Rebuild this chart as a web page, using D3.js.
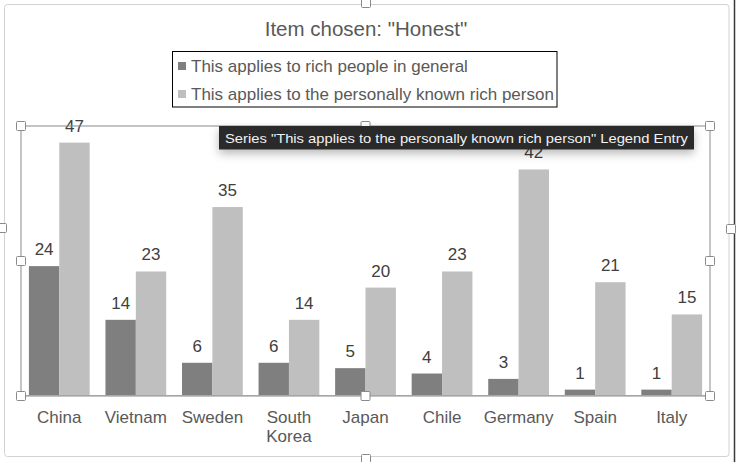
<!DOCTYPE html>
<html>
<head>
<meta charset="utf-8">
<script src="https://cdn.jsdelivr.net/npm/d3@7/dist/d3.min.js"></script>
<style>
  html, body { margin: 0; padding: 0; background: #fff; }
  svg { display: block; }
  text { font-family: "Liberation Sans", Arial, Helvetica, sans-serif; }
</style>
</head>
<body>
<svg id="chart" width="736" height="462"></svg>
<script>
// ---- data ----
const categories = ["China", "Vietnam", "Sweden", "South Korea", "Japan", "Chile", "Germany", "Spain", "Italy"];
const seriesNames = ["This applies to rich people in general", "This applies to the personally known rich person"];
const richGeneral = [24, 14, 6, 6, 5, 4, 3, 1, 1];
const richKnown = [47, 23, 35, 14, 20, 23, 42, 21, 15];
const seriesColors = ["#7f7f7f", "#bfbfbf"];
const titleText = 'Item chosen: "Honest"';
const tooltipText = 'Series "This applies to the personally known rich person" Legend Entry';

const svg = d3.select("#chart");
const defs = svg.append("defs");
const sh = defs.append("filter").attr("id", "shadow").attr("x", "-10%").attr("y", "-60%").attr("width", "120%").attr("height", "260%");
sh.append("feDropShadow").attr("dx", 0).attr("dy", 4).attr("stdDeviation", 5).attr("flood-color", "#000").attr("flood-opacity", 0.28);
defs.append("clipPath").attr("id", "legclip").append("rect").attr("x", 172).attr("y", 51).attr("width", 385).attr("height", 56);

// outer chart border + window edge
svg.append("rect").attr("x", 4.5).attr("y", 4.5).attr("width", 724.5).attr("height", 452).attr("rx", 3)
  .attr("fill", "#fff").attr("stroke", "#d2d2d2").attr("stroke-width", 1);
svg.append("line").attr("x1", 734.5).attr("x2", 734.5).attr("y1", 0).attr("y2", 462).attr("stroke", "#3a3a3a").attr("stroke-width", 1.5);

// scales
const plot = { left: 21, right: 710, top: 126, bottom: 396 };
const x0 = d3.scaleBand().domain(categories).range([plot.left, plot.right]).paddingInner(0).paddingOuter(0);
const x1 = d3.scaleBand().domain([0, 1]).range([0, x0.bandwidth()]).paddingInner(0).paddingOuter(0.26);
const y = d3.scaleLinear().domain([0, 50]).range([395, 126.5]);

const rows = categories.map((c, i) => ({ cat: c, vals: [richGeneral[i], richKnown[i]] }));

// bars
const g = svg.append("g");
const groups = g.selectAll("g.grp").data(rows).join("g").attr("class", "grp")
  .attr("transform", d => `translate(${x0(d.cat)},0)`);
groups.selectAll("rect").data(d => d.vals.map((v, k) => ({ v, k }))).join("rect")
  .attr("x", d => x1(d.k)).attr("width", x1.bandwidth())
  .attr("y", d => y(d.v)).attr("height", d => y(0) - y(d.v))
  .attr("fill", d => seriesColors[d.k]);
groups.selectAll("text.val").data(d => d.vals.map((v, k) => ({ v, k }))).join("text").attr("class", "val")
  .attr("x", d => x1(d.k) + x1.bandwidth() / 2).attr("y", d => y(d.v) - 11)
  .attr("text-anchor", "middle").attr("font-size", 17).attr("fill", "#404040")
  .text(d => d.v);

// x axis
const xAxis = d3.axisBottom(x0).tickSize(0).tickPadding(0);
const ax = svg.append("g").attr("transform", `translate(0,${y(0)})`).call(xAxis);
ax.select(".domain").attr("stroke", "#bfbfbf");
ax.selectAll(".tick text").each(function(d) {
  const t = d3.select(this);
  t.text(null).attr("y", null).attr("dy", null).attr("font-size", 17).attr("fill", "#595959")
   .attr("font-family", '"Liberation Sans", Arial, sans-serif');
  const words = d === "South Korea" ? ["South", "Korea"] : [d];
  words.forEach((w, i) => t.append("tspan").attr("x", 0).attr("y", 28 + i * 19).text(w));
});

// plot-area selection frame
svg.append("rect").attr("x", plot.left).attr("y", plot.top).attr("width", plot.right - plot.left).attr("height", plot.bottom - plot.top)
  .attr("fill", "none").attr("stroke", "#8a8a8a").attr("stroke-width", 1);
const midX = (plot.left + plot.right) / 2, midY = (plot.top + plot.bottom) / 2;
const handles = [[plot.left, plot.top], [midX, plot.top], [plot.right, plot.top], [plot.left, midY], [plot.right, midY],
  [plot.left, plot.bottom], [midX, plot.bottom], [plot.right, plot.bottom],
  [366, 3], [2, 228], [731, 229], [366, 459]];
svg.selectAll("rect.handle").data(handles).join("rect").attr("class", "handle")
  .attr("x", d => d[0] - 4.5).attr("y", d => d[1] - 4.5).attr("width", 9).attr("height", 9).attr("rx", 1)
  .attr("fill", "#fff").attr("stroke", "#8a8a8a").attr("stroke-width", 1);

// title
svg.append("text").attr("x", 366).attr("y", 36).attr("text-anchor", "middle")
  .attr("font-size", 20.5).attr("fill", "#595959").text(titleText);

// legend
const leg = svg.append("g");
leg.append("rect").attr("x", 172.5).attr("y", 51.5).attr("width", 384.5).attr("height", 55.5)
  .attr("fill", "#fff").attr("stroke", "#000").attr("stroke-width", 1);
const lg = leg.append("g").attr("clip-path", "url(#legclip)");
seriesNames.forEach((s, i) => {
  const base = 72 + i * 28;
  lg.append("rect").attr("x", 178).attr("y", base - 10).attr("width", 8).attr("height", 8).attr("fill", seriesColors[i]);
  lg.append("text").attr("x", 191).attr("y", base).attr("font-size", 17).attr("fill", "#595959").text(s);
});

// tooltip
const tip = svg.append("g");
tip.append("rect").attr("x", 219).attr("y", 126).attr("width", 475).attr("height", 23.5)
  .attr("fill", "#2b2b2b").attr("filter", "url(#shadow)");
tip.append("text").attr("x", 225).attr("y", 142.5).attr("font-size", 13.2).attr("fill", "#f2f2f2")
  .attr("font-family", '"Liberation Sans", Arial, sans-serif')
  .attr("textLength", 463).attr("lengthAdjust", "spacingAndGlyphs").text(tooltipText);
</script>
</body>
</html>
